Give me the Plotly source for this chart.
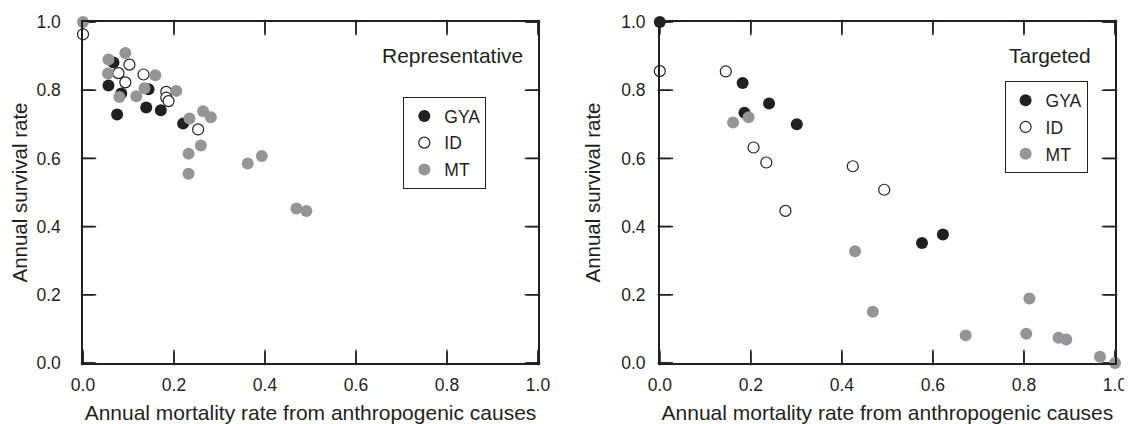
import plotly.graph_objects as go

# ---- data: Representative panel ----
rep_gya_x = [0.067, 0.056, 0.084, 0.075, 0.144, 0.139, 0.171, 0.220]
rep_gya_y = [0.881, 0.814, 0.790, 0.729, 0.803, 0.749, 0.741, 0.702]
rep_id_x = [0.0, 0.102, 0.078, 0.093, 0.133, 0.183, 0.183, 0.188, 0.253]
rep_id_y = [0.964, 0.875, 0.850, 0.823, 0.846, 0.795, 0.778, 0.768, 0.685]
rep_mt_x = [0.0, 0.056, 0.093, 0.055, 0.080, 0.159, 0.135, 0.117, 0.205, 0.234,
            0.264, 0.281, 0.259, 0.232, 0.232, 0.362, 0.393, 0.469, 0.491]
rep_mt_y = [1.0, 0.890, 0.909, 0.849, 0.780, 0.844, 0.806, 0.782, 0.798, 0.717,
            0.738, 0.721, 0.638, 0.614, 0.555, 0.585, 0.607, 0.453, 0.446]

# ---- data: Targeted panel ----
tar_gya_x = [0.0, 0.182, 0.240, 0.186, 0.301, 0.576, 0.622]
tar_gya_y = [1.0, 0.821, 0.761, 0.734, 0.700, 0.352, 0.377]
tar_id_x = [0.0, 0.145, 0.206, 0.234, 0.276, 0.424, 0.493]
tar_id_y = [0.856, 0.855, 0.632, 0.588, 0.446, 0.577, 0.508]
tar_mt_x = [0.161, 0.195, 0.429, 0.468, 0.672, 0.812, 0.805, 0.876, 0.893, 0.967, 1.0]
tar_mt_y = [0.705, 0.721, 0.328, 0.150, 0.081, 0.189, 0.086, 0.074, 0.069, 0.018, 0.0]

series_names = ["GYA", "ID", "MT"]
tick_vals = [0.0, 0.2, 0.4, 0.6, 0.8, 1.0]
panel_titles = ["Representative", "Targeted"]
x_title = "Annual mortality rate from anthropogenic causes"
y_title = "Annual survival rate"

INK = "#231f20"
GRAY = "#959598"
FONT = "Arial, Liberation Sans, Helvetica, sans-serif"

# layout geometry (px)
FIG_W, FIG_H = 1124, 416          # page adds an 8px body margin
M_L, M_R, M_T, M_B = 75, 17, 14, 61
PLOT_W = FIG_W - M_L - M_R
PLOT_H = FIG_H - M_T - M_B
DOM_L = [0, 0.4409]
DOM_R = [0.5589, 1.0]
TICK_LEN = 11
tick_dy = TICK_LEN / PLOT_H
tick_dx = TICK_LEN / (PLOT_W * (DOM_L[1] - DOM_L[0]))

styles = {
    "GYA": dict(color=INK, size=12, line=dict(width=0)),
    "ID": dict(color="white", size=11, line=dict(color=INK, width=1.2)),
    "MT": dict(color=GRAY, size=12, line=dict(width=0)),
}

fig = go.Figure()

panels = [
    ("x", "y", "legend", [(rep_gya_x, rep_gya_y), (rep_id_x, rep_id_y), (rep_mt_x, rep_mt_y)], "L"),
    ("x2", "y2", "legend2", [(tar_gya_x, tar_gya_y), (tar_id_x, tar_id_y), (tar_mt_x, tar_mt_y)], "R"),
]
for xa, ya, lg, data, tag in panels:
    # inward tick marks on all four sides, at the axis tick values
    tx, ty = [], []
    for v in tick_vals:
        tx += [v, v, None, v, v, None, 0, tick_dx, None, 1, 1 - tick_dx, None]
        ty += [0, tick_dy, None, 1, 1 - tick_dy, None, v, v, None, v, v, None]
    fig.add_trace(go.Scatter(
        x=tx, y=ty, mode="lines", line=dict(color=INK, width=1.5),
        xaxis=xa, yaxis=ya, showlegend=False, hoverinfo="skip",
        cliponaxis=False, connectgaps=False,
    ))
    # same ticks as line-symbol markers (vertical on x edges, horizontal on y edges)
    vx = [v for v in tick_vals for _ in (0, 1)]
    vy = [e for _ in tick_vals for e in (tick_dy / 2, 1 - tick_dy / 2)]
    fig.add_trace(go.Scatter(
        x=vx, y=vy, mode="markers", showlegend=False, hoverinfo="skip",
        marker=dict(symbol="line-ns", size=TICK_LEN, line=dict(color=INK, width=1.5)),
        xaxis=xa, yaxis=ya, cliponaxis=False,
    ))
    hx = [e for _ in tick_vals for e in (tick_dx / 2, 1 - tick_dx / 2)]
    hy = [v for v in tick_vals for _ in (0, 1)]
    fig.add_trace(go.Scatter(
        x=hx, y=hy, mode="markers", showlegend=False, hoverinfo="skip",
        marker=dict(symbol="line-ew", size=TICK_LEN, line=dict(color=INK, width=1.5)),
        xaxis=xa, yaxis=ya, cliponaxis=False,
    ))
    for name, (xs, ys) in zip(series_names, data):
        fig.add_trace(go.Scatter(
            x=xs, y=ys, mode="markers", name=name,
            marker=dict(symbol="circle", **styles[name]),
            xaxis=xa, yaxis=ya, legend=lg, legendgroup=tag + name,
            cliponaxis=False,
        ))

x_axis_common = dict(
    range=[0, 1], tickvals=tick_vals, tickformat=".1f",
    showline=True, linecolor=INK, linewidth=1.5, mirror=True,
    ticks="outside", ticklen=5, tickwidth=1, tickcolor="rgba(0,0,0,0)",
    showgrid=False, zeroline=False, automargin=False,
    tickfont=dict(family=FONT, size=17.5, color=INK),
)

legend_common = dict(
    bordercolor=INK, borderwidth=1, bgcolor="white",
    font=dict(family=FONT, size=17.5, color=INK),
    xanchor="left", yanchor="top", tracegroupgap=1,
    itemsizing="trace",
)

fig.update_layout(
    width=FIG_W, height=FIG_H,
    margin=dict(l=M_L, r=M_R, t=M_T, b=M_B),
    paper_bgcolor="white", plot_bgcolor="white",
    font=dict(family=FONT, color=INK),
    showlegend=True,
    xaxis=dict(domain=DOM_L, anchor="y",
               title=dict(text=x_title, font=dict(family=FONT, size=21, color=INK), standoff=13),
               **x_axis_common),
    yaxis=dict(domain=[0, 1], anchor="x",
               title=dict(text=y_title, font=dict(family=FONT, size=20.5, color=INK), standoff=7),
               **dict(x_axis_common, ticklen=17)),
    xaxis2=dict(domain=DOM_R, anchor="y2",
                title=dict(text=x_title, font=dict(family=FONT, size=21, color=INK), standoff=13),
                **x_axis_common),
    yaxis2=dict(domain=[0, 1], anchor="x2",
                title=dict(text=y_title, font=dict(family=FONT, size=20.5, color=INK), standoff=15),
                **dict(x_axis_common, ticklen=9)),
    legend=dict(x=0.3104, y=0.780, **legend_common),
    legend2=dict(x=0.893, y=0.826, **legend_common),
    annotations=[
        dict(text=panel_titles[0], xref="x", yref="y", x=0.972, y=0.902,
             xanchor="right", yanchor="middle", showarrow=False,
             font=dict(family=FONT, size=21, color=INK)),
        dict(text=panel_titles[1], xref="x2", yref="y2", x=0.951, y=0.902,
             xanchor="right", yanchor="middle", showarrow=False,
             font=dict(family=FONT, size=21, color=INK)),
    ],
)

fig.write_html("out.html")
